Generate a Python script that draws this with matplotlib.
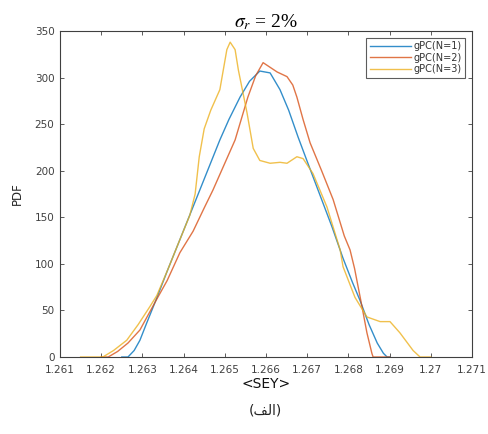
import matplotlib.pyplot as plt

plt.rcParams['mathtext.fontset'] = 'stix'

# SEY values and PDF for each gPC order
x_n1 = [1.2625, 1.26265, 1.26280, 1.26294, 1.26310, 1.26331, 1.26360, 1.26391, 1.26440,
        1.26488, 1.26510, 1.26537, 1.26560, 1.26585, 1.26610, 1.26634, 1.26655, 1.26678,
        1.26700, 1.26730, 1.26760, 1.26787, 1.26810, 1.26828, 1.26850, 1.26870, 1.26885,
        1.26894, 1.2690]
pdf_n1 = [0, 0, 7, 18, 36, 59, 92, 126, 180, 233, 255, 279, 296, 307, 305, 287, 265, 236,
          210, 175, 140, 106, 80, 61, 35, 15, 4, 0, 0]

x_n2 = [1.2620, 1.26217, 1.26240, 1.26265, 1.26294, 1.26331, 1.26360, 1.26391, 1.26423,
        1.26450, 1.26471, 1.26500, 1.26525, 1.26556, 1.26575, 1.26593, 1.26610, 1.26627,
        1.26651, 1.26665, 1.26675, 1.26690, 1.26707, 1.26735, 1.26763, 1.26790, 1.26804,
        1.26815, 1.26830, 1.26845, 1.26857, 1.2686, 1.2690]
pdf_n2 = [0, 0, 6, 15, 29, 59, 82, 112, 135, 160, 179, 208, 233, 279, 302, 316, 311, 306,
          301, 292, 279, 255, 230, 200, 169, 130, 115, 95, 61, 26, 4, 0, 0]

x_n3 = [1.2615, 1.26204, 1.26230, 1.26262, 1.26290, 1.26318, 1.26335, 1.26360, 1.26391,
        1.26415, 1.26428, 1.26438, 1.26450, 1.26466, 1.26488, 1.26505, 1.26513, 1.26525,
        1.26533, 1.26554, 1.26569, 1.26585, 1.26610, 1.26634, 1.26651, 1.26675, 1.26690,
        1.26714, 1.26748, 1.26780, 1.26787, 1.26816, 1.26845, 1.26877, 1.26901, 1.26925,
        1.26957, 1.26974, 1.2700]
pdf_n3 = [0, 0, 7, 18, 35, 54, 66, 92, 126, 152, 175, 215, 245, 265, 287, 330, 338, 330,
          308, 262, 224, 211, 208, 209, 208, 215, 213, 197, 161, 115, 97, 64, 43, 38, 38, 26,
          7, 0, 0]

labels = ['gPC(N=1)', 'gPC(N=2)', 'gPC(N=3)']
colors = ['#0072BD', '#D95319', '#EDB120']

xticks = [1.261, 1.262, 1.263, 1.264, 1.265, 1.266, 1.267, 1.268, 1.269, 1.27, 1.271]
xticklabels = ['1.261', '1.262', '1.263', '1.264', '1.265', '1.266', '1.267', '1.268',
               '1.269', '1.27', '1.271']
yticks = [0, 50, 100, 150, 200, 250, 300, 350]

fig = plt.figure(figsize=(4.89, 4.34), dpi=100)
ax = fig.add_axes([0.1227, 0.1774, 0.8425, 0.7512])

for xs, ys, lab, c in zip([x_n1, x_n2, x_n3], [pdf_n1, pdf_n2, pdf_n3], labels, colors):
    ax.plot(xs, ys, color=c, lw=1.0, label=lab, alpha=0.8)

ax.set_xlim(1.261, 1.271)
ax.set_ylim(0, 350)
ax.set_xticks(xticks)
ax.set_xticklabels(xticklabels)
ax.set_yticks(yticks)
ax.tick_params(direction='in', top=True, right=True, length=3, width=0.6,
               labelsize=7.5, colors='#404040', labelcolor='#404040')
ax.tick_params(axis='x', pad=6)
ax.tick_params(axis='y', pad=4)
for s in ax.spines.values():
    s.set_color('#404040')
    s.set_linewidth(0.8)

ax.set_ylabel('PDF', fontsize=8.5, color='#262626', labelpad=8)
ax.set_xlabel('<SEY>', fontsize=10, color='#111111', labelpad=1)
ax.set_title(r'$\sigma_r$ = 2%', fontsize=14, family='Liberation Serif', pad=3)

leg = ax.legend(loc='upper right', fontsize=7, frameon=True, fancybox=False,
                handlelength=4.2, borderaxespad=0.7, labelspacing=0.15,
                handletextpad=0.3, borderpad=0.35)
leg.get_frame().set_edgecolor('#333333')
leg.get_frame().set_linewidth(0.8)
for t in leg.get_texts():
    t.set_color('#333333')

# caption "(الف)" in presentation forms, visual order
fig.text(0.543, 0.055, '(\uFED2\uFEDF\uFE8D)', ha='center', va='center', fontsize=10,
         family='DejaVu Sans', color='#222222')

fig.savefig('out.png', dpi=100)
